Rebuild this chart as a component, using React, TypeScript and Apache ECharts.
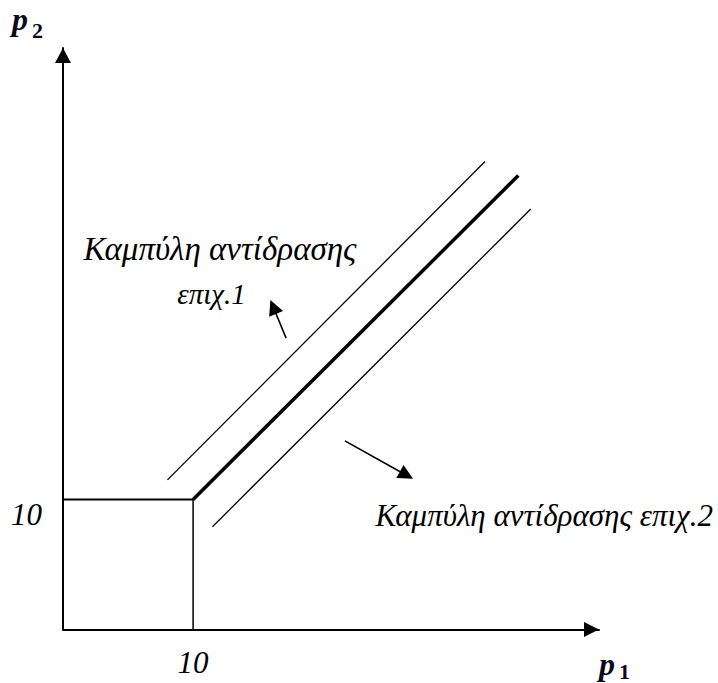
import React, { useEffect, useRef } from "react";
import * as echarts from "echarts";

// Axis extents (price units)
const X_MAX = 41.2;
const Y_MAX = 44.7;
const TICK_STEP = 10;
const tickLabels = ["10"];

// Marks (data coordinates: [p1, p2])
const boxHorizontal = [
  [0, 10],
  [10, 10],
];
const boxVertical = [
  [10, 10],
  [10, 0],
];
const firm1Curve = [
  [8.03, 11.5],
  [32.44, 35.98],
];
const equilibriumCurve = [
  [10, 10],
  [35, 34.9],
];
const firm2Curve = [
  [11.49, 7.9],
  [35.95, 32.32],
];
const arrowFirm1 = [
  [17.15, 22.4],
  [16.16, 24.79],
];
const arrowFirm2 = [
  [21.67, 14.5],
  [26.4, 11.86],
];

// Texts
const curve1Label = ["Καμπύλη αντίδρασης", "επιχ.1"];
const curve2Label = "Καμπύλη αντίδρασης επιχ.2";
const xName = ["p", "1"];
const yName = ["p", "2"];

const SERIF = '"Liberation Serif", "Times New Roman", serif';

export default function App() {
  const ref = useRef<HTMLDivElement>(null);

  useEffect(() => {
    if (!ref.current) return;
    const chart = echarts.init(ref.current, undefined, { renderer: "svg" });

    const labelFmt = (v: number) =>
      tickLabels.includes(String(v)) ? String(v) : "";

    const lineSeries = (data: number[][], width: number) => ({
      type: "line",
      data,
      symbol: "none",
      silent: true,
      lineStyle: { color: "#000", width },
    });

    const arrowSeries = (coords: number[][]) => ({
      type: "lines",
      coordinateSystem: "cartesian2d",
      silent: true,
      symbol: ["none", "triangle"],
      symbolSize: [14, 15],
      lineStyle: { color: "#000", width: 1.6, curveness: 0, opacity: 1 },
      data: [{ coords }],
    });

    const text = (
      x: number,
      y: number,
      str: string,
      font: string,
      align: string,
      fill = "#000"
    ) => ({
      type: "text",
      x,
      y,
      silent: true,
      style: { text: str, font, fill, align, verticalAlign: "middle" },
    });

    chart.setOption({
      animation: false,
      backgroundColor: "#fff",
      grid: { left: 63, right: 119, top: 48, bottom: 53.5 },
      xAxis: {
        type: "value",
        min: 0,
        max: X_MAX,
        interval: TICK_STEP,
        axisLine: {
          show: true,
          onZero: false,
          lineStyle: { color: "#000", width: 2 },
          symbol: ["none", "triangle"],
          symbolSize: [15, 15],
          symbolOffset: [0, -7.5],
        },
        axisTick: { show: false },
        splitLine: { show: false },
        axisLabel: {
          formatter: labelFmt,
          fontFamily: SERIF,
          fontStyle: "italic",
          fontSize: 31,
          color: "#000",
          margin: 17,
          showMaxLabel: false,
        },
      },
      yAxis: {
        type: "value",
        min: 0,
        max: Y_MAX,
        interval: TICK_STEP,
        axisLine: {
          show: true,
          onZero: false,
          lineStyle: { color: "#000", width: 2 },
          symbol: ["none", "triangle"],
          symbolSize: [16, 15],
          symbolOffset: [0, -7.5],
        },
        axisTick: { show: false },
        splitLine: { show: false },
        axisLabel: {
          formatter: labelFmt,
          fontFamily: SERIF,
          fontStyle: "italic",
          fontSize: 31,
          lineHeight: 31,
          color: "#000",
          margin: 21,
          align: "right",
          verticalAlign: "top",
          showMaxLabel: false,
        },
      },
      series: [
        lineSeries(boxHorizontal, 2),
        lineSeries(boxVertical, 1.5),
        lineSeries(firm1Curve, 1.3),
        lineSeries(equilibriumCurve, 3.5),
        lineSeries(firm2Curve, 1.3),
        arrowSeries(arrowFirm1),
        arrowSeries(arrowFirm2),
      ],
      graphic: [
        text(220, 249, curve1Label[0], `italic 33px ${SERIF}`, "center"),
        text(211.5, 293.5, curve1Label[1], `italic 29px ${SERIF}`, "center"),
        text(713, 515, curve2Label, `italic 31px ${SERIF}`, "right"),
        text(12, 19, yName[0], `italic bold 32px ${SERIF}`, "left", "#0a0a1e"),
        text(32, 30, yName[1], `bold 22px ${SERIF}`, "left", "#0a0a1e"),
        text(599, 664, xName[0], `italic bold 32px ${SERIF}`, "left", "#0a0a1e"),
        text(619, 671.5, xName[1], `bold 22px ${SERIF}`, "left", "#0a0a1e"),
      ],
    });

    return () => chart.dispose();
  }, []);

  return (
    <div
      ref={ref}
      style={{ position: "fixed", left: 0, top: 0, width: 718, height: 683 }}
    />
  );
}
